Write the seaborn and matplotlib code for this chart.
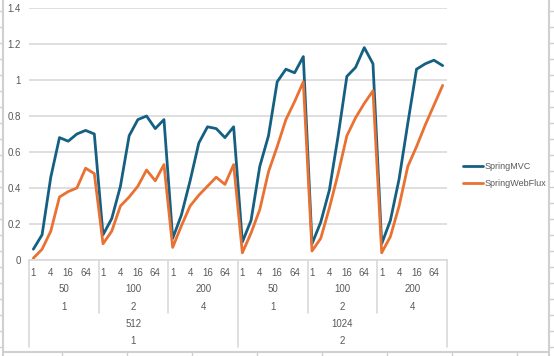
import numpy as np
import pandas as pd
import matplotlib
matplotlib.use("Agg")
import matplotlib.pyplot as plt
import seaborn as sns
from matplotlib.lines import Line2D

# x levels (innermost first)
conc = [1, 2, 4, 8, 16, 32, 64, 128]
level2 = ["50", "100", "200", "50", "100", "200"]
level3 = ["1", "2", "4", "1", "2", "4"]
level4 = ["512", "1024"]
level5 = ["1", "2"]

spring_mvc = [0.06, 0.14, 0.46, 0.68, 0.66, 0.70, 0.72, 0.70,
              0.14, 0.23, 0.41, 0.69, 0.78, 0.80, 0.73, 0.78,
              0.12, 0.25, 0.44, 0.65, 0.74, 0.73, 0.68, 0.74,
              0.10, 0.22, 0.52, 0.69, 0.99, 1.06, 1.04, 1.13,
              0.09, 0.21, 0.39, 0.69, 1.02, 1.07, 1.18, 1.09,
              0.09, 0.22, 0.45, 0.76, 1.06, 1.09, 1.11, 1.08]
spring_webflux = [0.01, 0.06, 0.16, 0.35, 0.38, 0.40, 0.51, 0.48,
                  0.09, 0.16, 0.30, 0.35, 0.41, 0.50, 0.44, 0.53,
                  0.07, 0.19, 0.30, 0.36, 0.41, 0.46, 0.42, 0.53,
                  0.04, 0.15, 0.28, 0.49, 0.63, 0.78, 0.88, 0.99,
                  0.05, 0.12, 0.29, 0.48, 0.69, 0.79, 0.87, 0.94,
                  0.04, 0.13, 0.30, 0.52, 0.63, 0.75, 0.86, 0.97]

n = len(spring_mvc)
df = pd.DataFrame({
    "idx": list(range(n)) * 2,
    "value": spring_mvc + spring_webflux,
    "series": ["SpringMVC"] * n + ["SpringWebFlux"] * n,
})

sns.set_style("white")
plt.rcParams["font.family"] = ["Liberation Sans", "DejaVu Sans"]
grey = "#595959"
line_grey = "#D9D9D9"
fs = 7

fig = plt.figure(figsize=(5.54, 3.56), dpi=100)
W, H = 554, 356
ax = fig.add_axes([29 / W, 1 - 260 / H, (447 - 29) / W, (260 - 8) / H])

palette = {"SpringMVC": "#156082", "SpringWebFlux": "#E97132"}
sns.lineplot(data=df, x="idx", y="value", hue="series", palette=palette,
             linewidth=2.0, ax=ax, legend=False)

ax.set_xlim(-0.5, n - 0.5)
ax.set_ylim(0, 1.4)
yt = np.arange(0, 1.41, 0.2)
ax.set_yticks(yt)
ax.set_yticklabels([("%g" % round(v, 1)) for v in yt], fontsize=fs, color=grey)
ax.yaxis.grid(True, color=line_grey, linewidth=1.2)
ax.set_axisbelow(True)
ax.tick_params(axis="y", length=0, pad=6)
for s in ["top", "right", "left"]:
    ax.spines[s].set_visible(False)
ax.spines["bottom"].set_color(line_grey)
ax.spines["bottom"].set_linewidth(1.2)
ax.set_xlabel("")
ax.set_ylabel("")

# first level ticks: every other concurrency value
ng = len(level2)
k = len(conc)
tick_pos = [g * k + i for g in range(ng) for i in range(0, k, 2)]
tick_lab = [str(conc[i]) for g in range(ng) for i in range(0, k, 2)]
ax.set_xticks(tick_pos)
ax.set_xticklabels(tick_lab, fontsize=fs, color=grey)
ax.tick_params(axis="x", length=0, pad=6)

trans = ax.get_xaxis_transform()
def ay(py):
    return (260 - py) / 252.0

for g in range(ng):
    cx = g * k + (k - 1) / 2
    ax.text(cx, ay(289), level2[g], transform=trans, ha="center", va="center",
            fontsize=fs, color=grey)
    ax.text(cx, ay(306.5), level3[g], transform=trans, ha="center", va="center",
            fontsize=fs, color=grey)
per = ng // len(level4)
for j in range(len(level4)):
    cx = j * per * k + (per * k - 1) / 2
    ax.text(cx, ay(324), level4[j], transform=trans, ha="center", va="center",
            fontsize=fs, color=grey)
    ax.text(cx, ay(341.5), level5[j], transform=trans, ha="center", va="center",
            fontsize=fs, color=grey)

# separators
for g in range(ng + 1):
    bx = g * k - 0.5
    bottom = ay(347) if g % per == 0 else ay(313)
    ax.plot([bx, bx], [0, bottom], transform=trans, color=line_grey,
            linewidth=1.2, clip_on=False)

# legend
handles = [Line2D([0], [0], color=palette[s], linewidth=2.0) for s in palette]
fig.legend(handles, list(palette), loc="center left",
           bbox_to_anchor=(455 / W, 1 - 175 / H), frameon=False, fontsize=6.5,
           handlelength=2.2, handletextpad=0.15, labelspacing=0.85,
           labelcolor=grey)

# chart area border and sheet grid
bc = "#D0D0D0"
fig.add_artist(Line2D([3 / W, 3 / W], [0, 1], transform=fig.transFigure, color=bc, lw=1.5))
fig.add_artist(Line2D([549 / W, 549 / W], [0, 1], transform=fig.transFigure, color=bc, lw=1.5))
fig.add_artist(Line2D([3 / W, 549 / W], [1 - 352 / H] * 2, transform=fig.transFigure, color=bc, lw=1.5))
for xx in range(62, 549, 65):
    fig.add_artist(Line2D([xx / W] * 2, [0, 1 - 352 / H], transform=fig.transFigure, color=bc, lw=1))
for yy in range(11, 356, 16):
    fig.add_artist(Line2D([549 / W, 1], [1 - yy / H] * 2, transform=fig.transFigure, color=bc, lw=1))
for yy in range(11, 352, 16):
    fig.add_artist(Line2D([0, 3 / W], [1 - yy / H] * 2, transform=fig.transFigure, color=bc, lw=1))

fig.savefig("out.png", dpi=100)
